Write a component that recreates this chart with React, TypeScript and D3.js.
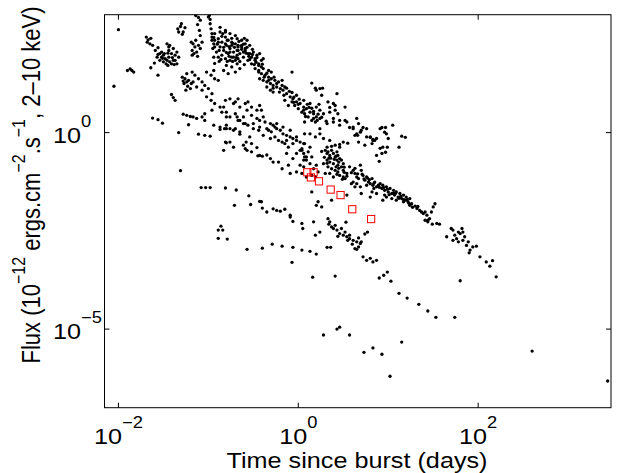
import React from 'react';
import * as d3 from 'd3';

// Every point is [log10(time since burst, days), log10(flux, 1e-12 erg cm^-2 s^-1)]
const earlySparse: number[][] = [
  [-2.00,2.62],[-2.05,1.18],[-1.90,1.58],[-1.87,1.62],[-1.85,1.58],[-1.83,1.54],[-1.62,0.37],[-1.56,0.33],
  [-1.51,0.24],[-1.33,0.00],[-1.31,-0.97],
];
const clusterA: number[][] = [
  [-1.69,2.43],[-1.67,2.36],[-1.64,2.40],[-1.68,2.30],[-1.65,2.26],[-1.62,2.22],
  [-1.59,2.09],[-1.56,2.16],[-1.54,2.01],[-1.52,1.92],[-1.50,1.97],[-1.48,1.88],[-1.46,1.84],[-1.44,1.92],
  [-1.43,1.80],[-1.41,1.75],[-1.39,1.84],[-1.37,1.97],[-1.35,2.05],[-1.33,1.92],[-1.44,2.18],[-1.39,2.14],
  [-1.46,2.26],[-1.43,2.22],[-1.50,1.80],[-1.47,1.75],[-1.45,1.71],[-1.52,2.05],[-1.49,2.01],[-1.41,2.01],
  [-1.37,1.84],[-1.35,1.75],[-1.54,1.84],[-1.57,1.92],[-1.64,1.65],[-1.60,1.77],[-1.56,1.46],
  [-1.56,1.99],[-1.51,1.89],[-1.45,2.02],[-1.40,1.91],[-1.44,2.09],[-1.38,1.73],
  [-1.41,0.97],[-1.39,0.89],[-1.37,0.82],
  [-1.34,2.64],[-1.31,2.70],[-1.30,2.77],[-1.28,2.56],[-1.26,2.67],[-1.29,2.50],[-1.33,2.56],
];
const clusterB: number[][] = [
  [-1.29,1.41],[-1.26,1.37],[-1.24,1.29],[-1.22,1.33],[-1.27,1.25],[-1.23,1.18],[-1.20,1.12],[-1.25,1.08],
  [-1.28,1.31],[-1.19,1.25],
  [-1.19,2.30],[-1.17,2.26],[-1.15,2.18],[-1.18,2.09],[-1.13,2.05],[-1.11,2.22],[-1.09,2.14],[-1.16,2.01],
  [-1.12,1.94],[-1.07,2.30],[-1.18,1.97],[-1.14,2.35],
  [-1.14,2.98],[-1.11,2.93],[-1.09,2.86],[-1.12,2.75],[-1.10,2.60],[-1.09,2.47],[-0.99,2.98],[-1.00,2.94],
  [-0.98,2.77],[-0.97,2.64],[-0.96,2.52],[-0.96,2.35],[-0.94,2.26],[-0.93,2.18],[-0.98,2.88],
  [-1.24,1.50],[-1.18,1.54],[-1.15,1.46],[-1.11,1.37],[-1.07,1.29],[-1.17,1.29],[-1.13,1.16],[-1.07,1.08],
  [-1.04,1.20],[-1.00,1.12],[-0.96,0.99],
  [-1.02,1.54],[-0.97,1.46],[-0.93,1.37],[-0.89,1.33],[-0.94,1.58],
];
const blobC: number[][] = [
  [-0.96,2.43],[-0.93,2.35],[-0.89,2.39],[-0.85,2.30],[-0.81,2.43],[-0.78,2.35],[-0.74,2.30],[-0.70,2.26],
  [-0.67,2.22],[-0.63,2.18],[-0.87,2.18],[-0.83,2.09],[-0.80,2.22],[-0.76,2.14],[-0.72,2.05],[-0.68,2.09],
  [-0.65,2.01],[-0.61,1.92],[-0.91,2.05],[-0.94,1.92],[-0.89,1.92],[-0.85,1.97],[-0.81,1.88],[-0.78,2.01],
  [-0.74,1.92],[-0.70,1.84],[-0.67,1.88],[-0.93,2.52],[-0.87,2.56],[-0.81,2.56],[-0.76,2.52],[-0.70,2.47],
  [-0.68,2.39],[-0.63,2.35],[-0.59,2.26],[-0.59,2.09],[-0.56,2.01],[-0.52,1.92],[-0.48,1.84],[-0.44,1.75],
  [-0.41,1.67],[-0.81,2.26],[-0.74,2.22],[-0.67,2.18],[-0.63,2.22],[-0.59,2.14],[-0.76,2.05],[-0.61,2.05],
  [-0.54,2.01],[-0.50,2.05],[-0.46,1.97],[-0.43,2.01],[-0.48,1.88],[-0.41,1.84],[-0.56,1.84],[-0.52,1.75],
  [-0.44,1.71],[-0.39,1.88],[-0.76,1.84],[-0.72,1.92],[-0.80,1.71],[-0.74,1.67],[-0.68,1.75],[-0.83,1.58],
  [-0.78,1.50],[-0.70,1.54],[-0.65,1.63],[-0.87,2.68],[-0.81,2.60],
  [-0.95,2.14],[-0.90,2.25],[-0.88,2.09],[-0.85,2.45],[-0.83,2.17],[-0.79,2.35],[-0.77,1.94],[-0.74,2.40],
  [-0.71,2.17],[-0.68,1.97],[-0.66,2.32],[-0.63,2.12],[-0.60,2.40],[-0.57,2.17],[-0.55,1.94],[-0.51,2.12],
  [-0.58,2.02],[-0.73,1.81],[-0.79,1.81],[-0.88,1.81],[-0.93,1.76],[-0.65,1.81],[-0.60,1.73],[-0.54,1.86],
  [-0.49,1.73],[-0.46,1.91],[-0.57,2.35],[-0.54,2.22],
  [-0.94,2.42],[-0.89,2.30],[-0.84,2.52],[-0.77,2.19],[-0.73,2.27],[-0.67,2.09],[-0.61,2.25],[-0.80,2.04],
  [-0.86,1.86],[-0.69,1.91],[-0.51,1.99],[-0.47,1.79],
];
const bandUpper: number[][] = [
  [-0.48,1.63],[-0.44,1.54],[-0.41,1.50],[-0.37,1.46],[-0.33,1.41],[-0.30,1.37],[-0.43,1.37],[-0.39,1.33],
  [-0.35,1.29],[-0.31,1.25],[-0.28,1.20],[-0.24,1.16],[-0.20,1.12],[-0.17,1.08],[-0.26,1.33],[-0.22,1.29],
  [-0.18,1.20],[-0.15,1.16],[-0.35,1.16],[-0.31,1.08],[-0.28,1.03],[-0.33,1.58],[-0.30,1.54],[-0.39,1.63],
  [-0.07,1.54],[-0.13,0.99],[-0.09,0.91],[-0.06,0.86],[-0.02,0.78],[0.02,0.74],[0.06,0.65],[0.09,0.61],
  [0.13,0.52],[0.17,0.48],[0.20,0.40],[0.24,0.36],[-0.07,0.78],[-0.04,0.69],[0.00,0.61],[0.04,0.52],
  [0.07,0.48],[0.11,0.40],[0.15,0.31],[-0.02,0.95],[0.06,0.82],[0.13,0.74],[0.20,0.65],[0.24,0.57],
  [0.28,0.48],[-0.15,0.82],[-0.11,0.69],
  [-0.40,1.74],[-0.35,1.51],[-0.27,1.41],[-0.24,1.25],[-0.18,1.33],[-0.13,1.13],[-0.07,1.02],[-0.05,0.77],
  [0.01,0.85],[0.10,0.72],[0.15,0.62],[0.22,0.47],[0.08,0.41],[0.17,0.36],[0.23,0.72],
  [-0.44,1.58],[-0.38,1.41],[-0.33,1.33],[-0.28,1.13],[-0.21,1.03],[-0.16,0.95],[-0.10,1.05],[-0.05,0.90],
  [0.00,0.72],[0.06,0.57],[0.12,0.64],[0.17,0.54],[0.21,0.31],[0.26,0.39],[0.31,0.29],
];
const upperScatter: number[][] = [
  [0.15,1.26],[0.24,1.12],[0.20,1.08],[0.26,0.95],[0.43,0.99],[0.33,0.78],[0.41,0.69],[0.52,0.65],
  [0.35,0.52],[0.44,0.48],[0.52,0.31],[0.19,1.13],[0.27,1.13],[0.39,0.74],[0.35,0.64],[0.41,0.57],
  [0.39,0.36],[0.46,0.31],[0.57,0.13],[0.65,0.36],[0.69,0.01],[0.66,-0.07],[0.72,0.13],[0.93,0.13],
  [0.97,0.13],[0.96,0.01],[1.00,-0.15],[1.05,0.19],[1.15,-0.09],[1.19,-0.12],[0.80,-0.12],[0.83,-0.17],
  [0.74,-0.32],[0.91,-0.40],[0.99,-0.37],[0.97,-0.50],[0.87,-0.58],[0.90,-0.73],[1.12,-0.37],[0.55,-0.27],
  [0.46,-0.30],[0.07,0.27],[0.19,0.27],[0.24,0.10],[0.32,0.23],[0.39,0.27],[0.46,0.19],[0.54,0.27],
  [0.61,0.14],[0.67,0.23],[0.63,-0.07],[0.70,0.06],[0.76,0.10],[0.80,-0.11],[0.82,-0.28],[0.85,-0.20],
  [0.94,-0.37],[0.91,0.10],[0.98,-0.03],[0.93,-0.53],[0.67,-0.24],[0.50,-0.24],[0.46,-0.37],[0.41,-0.32],
  [0.35,-0.20],[0.28,-0.15],[0.24,-0.03],[0.19,-0.11],[0.13,-0.03],[0.07,-0.03],[0.07,-0.28],[0.13,-0.37],
  [0.04,-0.41],[0.65,-0.03],[0.61,0.10],[0.76,-0.11],[0.83,-0.20],[0.87,-0.15],
];
const bandSecond: number[][] = [
  [-0.83,0.65],[-0.80,0.52],[-0.76,0.40],[-0.70,0.48],[-0.67,0.31],[-0.61,0.23],[-0.72,0.74],[-0.65,0.65],
  [-0.57,0.57],[-0.52,0.44],[-0.46,0.36],[-0.56,0.19],[-0.50,0.10],[-0.44,0.06],[-0.80,0.10],[-0.72,0.06],
  [-0.65,0.02],[-0.43,0.31],[-0.37,0.27],[-0.31,0.23],[-0.28,0.19],[-0.24,0.10],[-0.20,0.06],[-0.17,-0.03],
  [-0.13,-0.07],[-0.09,-0.11],[-0.06,-0.15],[-0.02,-0.20],[0.02,-0.24],[0.06,-0.28],[-0.35,0.10],[-0.30,0.02],
  [-0.26,-0.11],[-0.22,-0.20],[-0.18,-0.24],[-0.15,-0.28],[-0.11,-0.37],[-0.39,-0.07],[-0.31,-0.15],
  [-1.02,0.91],[-0.97,0.82],[-0.93,0.74],[-0.87,0.65],[-0.96,0.57],[-0.85,0.52],[-0.81,0.82],[-0.76,0.86],
  [-0.70,0.78],[-0.67,0.86],[-0.59,0.74],[-0.56,0.78],[-0.52,0.65],[-0.46,0.57],[-0.43,0.69],[-0.41,0.57],
  [-1.28,0.47],[-1.24,0.44],[-1.20,0.41],[-1.17,0.40],[-1.13,0.36],[-1.07,0.40],[-1.04,0.31],[-1.04,0.48],
  [-0.94,0.19],[-0.87,0.14],[-0.82,0.10],[-1.22,0.20],[-1.11,-0.04],[-1.04,-0.07],[-0.98,-0.09],
  [-0.81,-0.24],[-0.72,-0.37],[-0.83,-0.45],[-0.59,-0.41],[-0.52,-0.49],[-0.43,-0.58],
  [-0.80,-0.26],[-0.76,-0.24],[-0.61,-0.32],[-0.57,-0.45],[-0.58,-0.24],[-0.54,-0.11],[-0.52,-0.28],
  [-0.46,-0.38],[-0.45,-0.59],[-0.40,-0.60],[-0.35,-0.57],[-0.31,-0.66],[-0.28,-0.75],[-0.22,-0.75],
  [-0.18,-0.92],[-0.11,-0.83],[-0.09,-1.04],[-0.02,-1.00],[0.02,-0.83],[0.06,-0.70],[0.09,-0.62],
  [-0.06,-0.66],[-0.02,-0.53],[-0.13,-0.53],[-0.33,0.06],[-0.43,0.14],[-0.50,0.23],[-0.59,0.23],
  [-0.65,0.31],[-0.68,0.40],[-0.80,0.40],[-0.61,0.40],[-0.39,0.40],[-0.24,0.23],[-0.17,0.14],[-0.09,0.06],
  [-0.02,-0.11],[0.02,-0.45],[-0.06,-0.28],[-0.13,-0.20],[-0.26,0.14],[-0.87,0.08],[-0.80,0.19],
  [-0.76,0.10],[-0.70,0.10],[-0.65,-0.04],
];
const knotF: number[][] = [
  [0.04,-0.45],[0.06,-0.53],[0.07,-0.62],[0.11,-0.49],[0.09,-0.70],[0.13,-0.79],[0.06,-0.87],[0.15,-0.62],
  [0.17,-0.92],[0.20,-0.83],[0.22,-1.00],[0.04,-1.04],[0.09,-1.13],[0.15,-1.09],[0.19,-1.13],
  [0.30,-0.45],[0.32,-0.53],[0.33,-0.49],[0.35,-0.58],[0.37,-0.45],[0.39,-0.53],[0.41,-0.62],[0.43,-0.49],
  [0.44,-0.58],[0.46,-0.66],[0.48,-0.70],[0.32,-0.70],[0.35,-0.75],[0.39,-0.79],[0.43,-0.70],[0.44,-0.83],
  [0.48,-0.87],[0.50,-0.96],[0.33,-0.87],[0.37,-0.92],[0.41,-0.96],[0.44,-1.00],[0.46,-1.09],[0.50,-1.13],
  [0.30,-1.04],[0.35,-1.04],[0.39,-1.13],[0.52,-1.17],[0.28,-0.79],[0.42,-0.87],[0.50,-0.79],[0.54,-1.04],
  [0.32,-0.37],[0.37,-0.35],[0.34,-0.65],[0.40,-0.68],[0.45,-0.75],[0.51,-0.88],[0.43,-1.06],[0.49,-1.19],
  [0.26,-0.48],[0.29,-0.63],[0.32,-0.78],[0.36,-0.65],[0.42,-0.60],[0.45,-0.91],[0.51,-1.01],[0.54,-1.11],
];
const bandMain: number[][] = [
  [0.57,-0.87],[0.61,-0.96],[0.63,-1.04],[0.65,-1.13],[0.67,-1.17],[0.69,-0.83],[0.70,-0.96],[0.72,-1.09],
  [0.74,-1.21],[0.76,-1.13],[0.78,-1.26],[0.80,-1.30],[0.82,-1.17],[0.83,-1.34],[0.85,-1.26],[0.87,-1.38],
  [0.91,-1.30],[0.93,-1.42],[0.94,-1.34],[0.96,-1.47],[0.98,-1.38],[1.00,-1.51],[1.02,-1.42],[1.04,-1.55],
  [1.06,-1.47],[1.07,-1.59],[1.09,-1.51],[1.11,-1.64],[1.13,-1.55],[1.15,-1.68],[1.17,-1.59],[1.19,-1.72],
  [1.20,-1.64],[1.22,-1.76],[1.24,-1.68],[1.26,-1.81],[0.65,-1.30],[0.69,-1.38],[0.61,-1.26],[0.82,-1.51],
  [0.87,-1.55],[0.96,-1.59],[1.04,-1.68],[1.09,-1.72],[1.17,-1.76],[1.24,-1.85],[1.30,-1.87],
  [1.32,-1.93],[1.35,-1.98],[1.39,-2.06],[1.43,-2.10],[1.46,-2.19],[1.50,-1.89],[1.48,-2.02],[1.52,-1.81],
  [1.54,-2.31],[1.57,-2.33],[1.44,-2.23],[1.41,-2.02],[1.41,-2.23],[1.44,-2.27],[1.49,-2.33],
  [0.59,-1.02],[0.66,-1.05],[0.73,-1.18],[0.79,-1.20],[0.84,-1.42],[0.89,-1.34],[0.95,-1.40],[1.01,-1.58],
  [1.08,-1.55],[1.14,-1.62],[1.21,-1.70],[1.27,-1.90],[1.33,-1.88],[1.37,-2.02],
  [0.63,-0.91],[0.71,-1.06],[0.77,-1.16],[0.84,-1.29],[0.90,-1.39],[0.99,-1.44],[1.06,-1.54],[1.12,-1.67],
  [1.17,-1.70],[1.23,-1.80],
];
const tailFar: number[][] = [
  [1.65,-2.65],[1.70,-2.44],[1.72,-2.48],[1.74,-2.61],[1.76,-2.70],[1.80,-2.57],[1.82,-2.44],[1.83,-2.53],
  [1.85,-2.65],[1.89,-2.78],[1.87,-2.87],[1.91,-2.99],[1.94,-2.91],[1.83,-2.74],[1.78,-2.78],[1.72,-2.74],
  [2.02,-3.16],[2.09,-3.29],[2.13,-3.40],[2.16,-3.26],[1.98,-2.89],[1.90,-3.06],[1.78,-2.53],[2.20,-3.67],
];
const gapPoints: number[][] = [
  [0.54,-1.59],[0.59,-1.30],[0.63,-1.38],[0.70,-1.55],[0.76,-1.34],[0.80,-1.64],[0.94,-1.72],[0.98,-1.64],
  [0.04,-2.31],[0.05,-2.44],[0.17,-2.27],[0.24,-2.53],[0.20,-1.85],[0.22,-1.76],[0.26,-1.89],[0.19,-2.61],
  [0.15,-1.51],[0.37,-1.72],
];
const lowerCurve: number[][] = [
  [0.33,-2.19],[0.35,-2.27],[0.37,-2.40],[0.39,-2.44],[0.43,-2.48],[0.41,-2.36],[0.46,-2.57],[0.50,-2.61],
  [0.54,-2.65],[0.57,-2.70],[0.61,-2.74],[0.65,-2.78],[0.67,-2.91],[0.69,-2.82],[0.63,-2.95],[0.72,-3.16],
  [0.76,-3.25],[0.80,-3.20],[0.83,-3.29],[0.87,-3.25],[0.70,-2.78],[0.48,-2.44],[0.52,-2.53],[0.57,-2.61],
  [0.34,-2.33],[0.44,-2.64],[0.55,-2.74],[0.60,-2.84],[0.65,-2.97],[0.67,-2.68],[0.74,-2.58],
  [-0.06,-2.26],[0.53,-2.28],[0.77,-2.53],[0.32,-2.92],[0.36,-2.92],
  [0.90,-3.70],[0.95,-3.63],[0.99,-3.55],[1.03,-3.78],
  [1.12,-4.09],[1.21,-4.21],[1.34,-4.37],[1.44,-4.54],[1.53,-4.70],[1.74,-4.70],
];
const faintPoints: number[][] = [
  [0.28,-5.15],[0.43,-5.00],[0.46,-4.95],[0.57,-5.15],[0.73,-5.59],[0.83,-5.48],[0.93,-5.64],[1.15,-5.33],
  [1.02,-6.20],[2.60,-5.56],[3.44,-6.32],[0.16,-3.68],[0.41,-3.65],[-0.07,-3.30],[1.80,-3.77],
];
const faintLine: number[][] = [
  [-1.08,-1.40],[-1.03,-1.40],[-0.98,-1.40],[-0.81,-1.41],[-0.69,-1.46],[-0.55,-1.61],[-0.43,-1.75],
  [-0.41,-1.76],[-0.53,-1.83],[-0.71,-1.85],[-0.40,-1.92],[-0.35,-2.02],[-0.28,-1.94],[-0.24,-1.98],
  [-0.20,-2.00],[-0.15,-1.95],[-0.09,-2.10],[-0.09,-2.15],
  [-0.89,-2.48],[-0.86,-2.38],[-0.84,-2.48],[-0.79,-2.71],[-0.89,-2.69],
  [-0.57,-2.97],[-0.40,-2.94],[-0.29,-2.84],[-0.18,-2.89],[-0.06,-2.92],[0.04,-2.99],[0.13,-3.02],[0.20,-3.09],
];
const xrtSquares: number[][] = [
  [0.10,-1.01],[0.17,-1.01],[0.14,-1.14],[0.23,-1.24],[0.36,-1.45],[0.47,-1.59],[0.60,-1.95],[0.81,-2.20],
];

const dotGroups = [earlySparse, clusterA, clusterB, blobC, bandUpper, upperScatter, bandSecond, knotF,
  bandMain, tailFar, gapPoints, lowerCurve, faintPoints, faintLine];

const xTicks = [1e-2, 1, 1e2];
const xTickExp = ['\u22122', '0', '2'];
const yTicks = [1, 1e-5];
const yTickExp = ['0', '\u22125'];

const FONT = "'Liberation Sans', Arial, Helvetica, sans-serif";
const SX = 1.146;

export default function App() {
  const L = 104.5, R = 611, T = 14.7, B = 407.7;
  const x = d3.scaleLog().domain([0.007, 3000]).range([L, R]);
  const y = d3.scaleLog().domain([1e-7, 1e3]).range([B, T]);
  const dots = dotGroups.flat();
  const tl = 5;
  return (
    <svg width={621} height={473} style={{ position: 'absolute', left: 0, top: 0, background: '#fff' }}
      fontFamily={FONT}>
      <defs>
        <clipPath id="plotArea"><rect x={L} y={T} width={R - L} height={B - T} /></clipPath>
      </defs>
      <rect x={0} y={0} width={621} height={473} fill="#fff" />
      <g clipPath="url(#plotArea)">
        {dots.map((d, i) => (
          <circle key={i} cx={x(10 ** d[0])} cy={y(10 ** d[1])} r={1.65} fill="#000" />
        ))}
        {xrtSquares.map((d, i) => (
          <rect key={'s' + i} x={x(10 ** d[0]) - 3.6} y={y(10 ** d[1]) - 3.6} width={7.2} height={7.2}
            fill="none" stroke="#ff0000" strokeWidth={1} />
        ))}
      </g>
      <rect x={L} y={T} width={R - L} height={B - T} fill="none" stroke="#000" strokeWidth={1} />
      {xTicks.map((t, i) => (
        <g key={'xt' + i}>
          <line x1={x(t)} x2={x(t)} y1={B} y2={B - tl} stroke="#000" />
          <line x1={x(t)} x2={x(t)} y1={T} y2={T + tl} stroke="#000" />
          <g transform={`translate(${x(t)},444) scale(${SX},1)`}>
            <text textAnchor="middle" fontSize={22} fill="#000">10<tspan fontSize={16} dy={-16}>{xTickExp[i]}</tspan></text>
          </g>
        </g>
      ))}
      {yTicks.map((t, i) => (
        <g key={'yt' + i}>
          <line x1={L} x2={L + tl} y1={y(t)} y2={y(t)} stroke="#000" />
          <line x1={R} x2={R - tl} y1={y(t)} y2={y(t)} stroke="#000" />
          <g transform={`translate(53,${y(t) + 10}) scale(${SX},1)`}>
            <text textAnchor="start" fontSize={22} fill="#000">10<tspan fontSize={16} dy={-16}>{yTickExp[i]}</tspan></text>
          </g>
        </g>
      ))}
      <g transform={`translate(357,467.5) scale(${SX},1)`}>
        <text textAnchor="middle" fontSize={22} fill="#000">Time since burst (days)</text>
      </g>
      <g transform={`translate(40,185) scale(${SX},1) rotate(-90)`}>
        <text textAnchor="middle" fontSize={22} fill="#000">
          Flux (10<tspan fontSize={16} dy={-13}>{'\u221212'}</tspan>
          <tspan dy={13}> ergs.cm</tspan>
          <tspan fontSize={16} dy={-13}>{'\u22122'}</tspan>
          <tspan dy={13}>.s</tspan>
          <tspan fontSize={16} dy={-13}>{'\u22121'}</tspan>
          <tspan dy={13}>, 2{'\u2013'}10 keV)</tspan>
        </text>
      </g>
    </svg>
  );
}
